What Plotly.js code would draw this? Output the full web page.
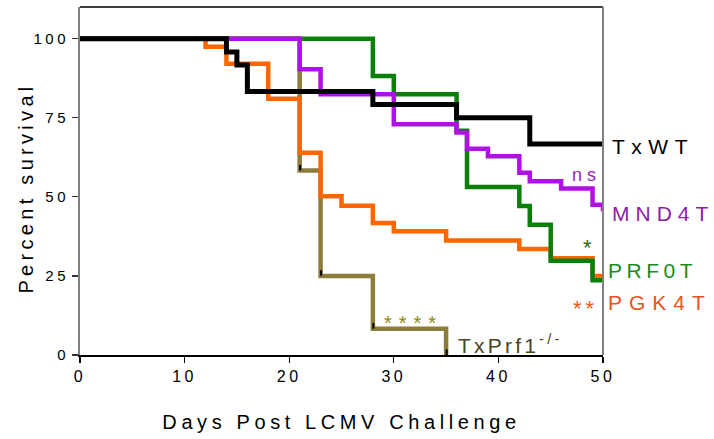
<!DOCTYPE html>
<html>
<head>
<meta charset="utf-8">
<script src="https://cdn.plot.ly/plotly-3.0.1.min.js"></script>
<style>
html,body{margin:0;padding:0;background:#fff;}
#chart{width:714px;height:439px;}
.xtick text, .ytick text{letter-spacing:3.5px;}
.g-xtitle text{letter-spacing:4.6px;}
.g-ytitle text{letter-spacing:4.3px;}
.g-ytitle{transform:translate(11px,7px);}
</style>
</head>
<body>
<div id="chart"></div>
<script>
// Kaplan-Meier step data (days, percent survival)
const wtDays   = [0, 14, 15, 16, 28, 36, 43, 50];
const wtSurv   = [100, 95.8, 91.7, 83.3, 79.2, 75, 66.7, 66.7];

const mndDays  = [0, 21, 23, 30, 36, 37, 39, 42, 43, 46, 49, 50];
const mndSurv  = [100, 90.3, 82.4, 72.9, 70.3, 65.2, 62.8, 57.6, 54.9, 52.6, 47.5, 45.4];

const prfDays  = [0, 28, 30, 36, 37, 42, 43, 45, 49, 50];
const prfSurv  = [100, 88.2, 82.4, 70.9, 53.1, 47.1, 41.2, 29.8, 23.6, 23.6];

const pgkDays  = [0, 12, 14, 18, 21, 23, 25, 28, 30, 35, 42, 45, 49, 50];
const pgkSurv  = [100, 97.4, 92.1, 81.0, 63.9, 50.2, 47.2, 41.7, 39.1, 36.2, 33.5, 30.6, 25.0, 25.0];

const koDays   = [0, 21, 23, 28, 35];
const koSurv   = [100, 58.3, 25, 8.3, 0];

// small censor ticks on the TxPrf1-/- curve
const koMarkDays = [21.05, 23.05, 28.05, 35.05];
const koMarkSurv = [59.2, 25.9, 9.2, 0.9];

const xTicks = [0, 10, 20, 30, 40, 50];
const yTicks = [0, 25, 50, 75, 100];

const font = "Liberation Sans, Arial, sans-serif";

function stepTrace(x, y, color, width) {
  return {x: x, y: y, type: 'scatter', mode: 'lines',
          line: {shape: 'hv', color: color, width: width},
          hoverinfo: 'skip', showlegend: false, cliponaxis: false};
}

const traces = [
  stepTrace(koDays, koSurv, '#8c7d3c', 4.5),
  stepTrace(pgkDays, pgkSurv, '#ff6600', 4.5),
  stepTrace(prfDays, prfSurv, '#0a800a', 4.5),
  stepTrace(mndDays, mndSurv, '#b010e6', 4.5),
  stepTrace(wtDays, wtSurv, '#000000', 5),
  {x: koMarkDays, y: koMarkSurv, type: 'scatter', mode: 'markers',
   marker: {symbol: 'line-ns-open', size: 4, color: '#000', line: {color: '#000', width: 2}},
   hoverinfo: 'skip', showlegend: false, cliponaxis: false}
];

function ann(text, x, y, color, size, paper) {
  return {text: text, x: x, y: y, xref: paper ? 'paper' : 'x', yref: paper ? 'paper' : 'y',
          showarrow: false, xanchor: 'left', yanchor: 'middle', align: 'left',
          font: {family: font, size: size, color: color}};
}

// per-annotation letter spacing (px), in the same order as the annotations
const annSpacing = [6.5, 5, 6, 0, 4.5, 4, 7, 7, 3.2];

const layout = {
  width: 714, height: 439,
  margin: {l: 80, r: 111, t: 7, b: 84},
  paper_bgcolor: '#fff', plot_bgcolor: '#fff',
  showlegend: false,
  xaxis: {
    range: [0, 50], tickvals: xTicks, ticktext: xTicks.map(String),
    ticks: 'outside', ticklen: 6, tickwidth: 1.2, tickcolor: '#000',
    showline: true, linecolor: '#000', linewidth: 1.5, mirror: false,
    showgrid: false, zeroline: false,
    tickfont: {family: font, size: 16, color: '#000'},
    title: {text: 'Days Post LCMV Challenge', standoff: 31,
            font: {family: font, size: 20, color: '#000'}}
  },
  yaxis: {
    range: [0, 110], tickvals: yTicks, ticktext: yTicks.map(String),
    ticks: 'outside', ticklen: 6, tickwidth: 1.2, tickcolor: '#333',
    showline: true, linecolor: '#808080', linewidth: 2, mirror: false,
    showgrid: false, zeroline: false,
    tickfont: {family: font, size: 15, color: '#000'},
    title: {text: 'Percent survival', standoff: 5,
            font: {family: font, size: 20, color: '#000'}}
  },
  shapes: [
    {type: 'line', xref: 'paper', yref: 'paper', x0: 0, x1: 1, y0: 1, y1: 1,
     line: {color: '#000', width: 1.5}},
    {type: 'line', xref: 'paper', yref: 'paper', x0: 1, x1: 1, y0: 0, y1: 1,
     line: {color: '#808080', width: 2}}
  ],
  annotations: [
    ann('TxWT', 1.014, 0.599, '#000000', 21, true),
    ann('ns', 46.8, 56.8, '#9424c0', 18),
    ann('MND4T', 1.013, 0.408, '#8a22a8', 21, true),
    ann('*', 47.9, 34.0, '#2a6a1a', 22),
    ann('PRF0T', 1.006, 0.243, '#1a8a1a', 21, true),
    ann('**', 46.9, 14.8, '#f05a1a', 22),
    ann('PGK4T', 1.006, 0.150, '#e8521a', 21, true),
    ann('****', 28.9, 10.0, '#8a8a14', 20),
    ann('TxPrf1<sup>-/-</sup>', 35.9, 3.6, '#4a4420', 21)
  ]
};

Plotly.newPlot('chart', traces, layout, {displayModeBar: false, staticPlot: true}).then(function (gd) {
  const texts = gd.querySelectorAll('.annotation-text');
  texts.forEach(function (t, i) {
    if (annSpacing[i] !== undefined) t.style.letterSpacing = annSpacing[i] + 'px';
  });
});
</script>
</body>
</html>
